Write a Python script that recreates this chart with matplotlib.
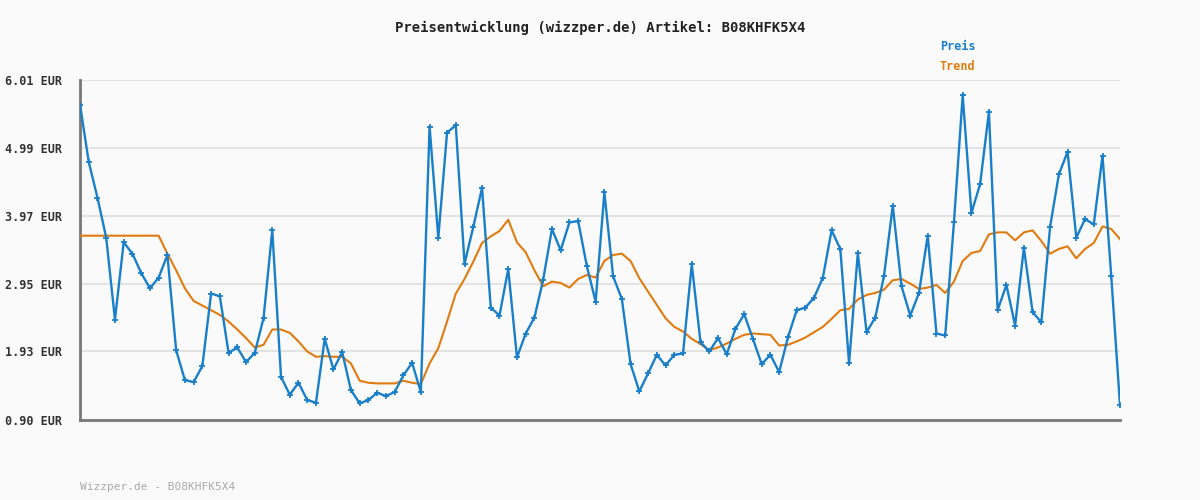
import matplotlib
matplotlib.use("Agg")
import matplotlib.pyplot as plt

preis = [5.64,4.78,4.24,3.64,2.41,3.57,3.40,3.11,2.88,3.04,3.38,1.95,1.50,1.47,1.71,2.80,2.76,1.91,1.99,1.77,
         1.91,2.43,3.75,1.55,1.28,1.46,1.20,1.16,2.12,1.66,1.92,1.35,1.15,1.20,1.31,1.26,1.32,1.57,1.76,1.32,
         5.31,3.64,5.22,5.33,3.25,3.80,4.39,2.59,2.47,3.17,1.84,2.20,2.44,3.01,3.77,3.45,3.87,3.89,3.21,2.68,
         4.32,3.06,2.72,1.74,1.33,1.60,1.88,1.72,1.88,1.90,3.24,2.07,1.93,2.13,1.89,2.27,2.49,2.12,1.74,1.88,
         1.62,2.14,2.55,2.59,2.74,3.04,3.75,3.47,1.75,3.41,2.22,2.44,3.07,4.12,2.91,2.47,2.81,3.67,2.20,2.17,
         3.87,5.78,4.01,4.45,5.53,2.55,2.93,2.32,3.49,2.52,2.37,3.80,4.59,4.93,3.64,3.92,3.84,4.87,3.06,1.12]
trend = [3.67]*10 + [3.40,3.15,2.88,2.69,2.62,2.55,2.48,2.38,2.26,2.13,
         1.99,2.03,2.26,2.26,2.21,2.08,1.93,1.85,1.86,1.85,1.85,1.75,1.49,1.46,1.45,1.45,1.45,1.49,1.46,1.44,
         1.75,1.98,2.38,2.80,3.02,3.28,3.56,3.66,3.74,3.91,3.57,3.42,3.15,2.91,2.98,2.96,2.89,3.02,3.08,3.04,
         3.29,3.38,3.40,3.29,3.03,2.83,2.63,2.43,2.30,2.23,2.12,2.04,1.95,1.99,2.05,2.12,2.18,2.20,2.19,2.18,
         2.02,2.03,2.08,2.14,2.22,2.30,2.42,2.55,2.57,2.71,2.78,2.81,2.86,3.00,3.02,2.95,2.87,2.89,2.93,2.81,
         2.98,3.29,3.41,3.44,3.69,3.72,3.72,3.60,3.72,3.75,3.59,3.40,3.47,3.51,3.33,3.47,3.56,3.81,3.77,3.62]
yticks = [0.90, 1.93, 2.95, 3.97, 4.99, 6.01]
ytick_labels = ["0.90 EUR", "1.93 EUR", "2.95 EUR", "3.97 EUR", "4.99 EUR", "6.01 EUR"]

plt.rcParams['font.family'] = ['DejaVu Sans Mono']
bg = "#fafafa"
fig = plt.figure(figsize=(12, 5), dpi=100, facecolor=bg)
ax = fig.add_axes([80/1200, 80/500, 1040/1200, 340/500], facecolor=bg)
x = list(range(len(preis)))
ax.plot(x, trend, color="#e07b10", lw=1.5, zorder=3)
ax.plot(x, preis, color="#1a7fc9", lw=1.7, marker="+", ms=4, mew=1.3, zorder=4)
ax.set_xlim(0, len(preis) - 1)
ax.set_ylim(0.90, 6.01)
ax.set_yticks(yticks)
ax.set_yticklabels(ytick_labels, fontsize=8.5, color="#333333", fontweight="bold")
ax.set_xticks([])
ax.tick_params(axis="y", length=0, pad=13)
ax.grid(axis="y", color="#e3e3e3", lw=1.5)
for s in ["top", "right"]:
    ax.spines[s].set_visible(False)
for s in ["left", "bottom"]:
    ax.spines[s].set_color("#777777")
    ax.spines[s].set_linewidth(2)

fig.text(0.5, 1 - 28/500, "Preisentwicklung (wizzper.de) Artikel: B08KHFK5X4", ha="center", va="center",
         fontsize=10, color="#222222", fontweight="semibold")
fig.text(940/1200, 1 - 47/500, "Preis", color="#1a7fc9", fontsize=8.5, fontweight="bold", va="center")
fig.text(940/1200, 1 - 67/500, "Trend", color="#e07b10", fontsize=8.5, fontweight="bold", va="center")
fig.text(80/1200, 1 - 487/500, "Wizzper.de - B08KHFK5X4", color="#aaaaaa", fontsize=8, va="center")
fig.savefig("out.png", dpi=100, facecolor=bg)
